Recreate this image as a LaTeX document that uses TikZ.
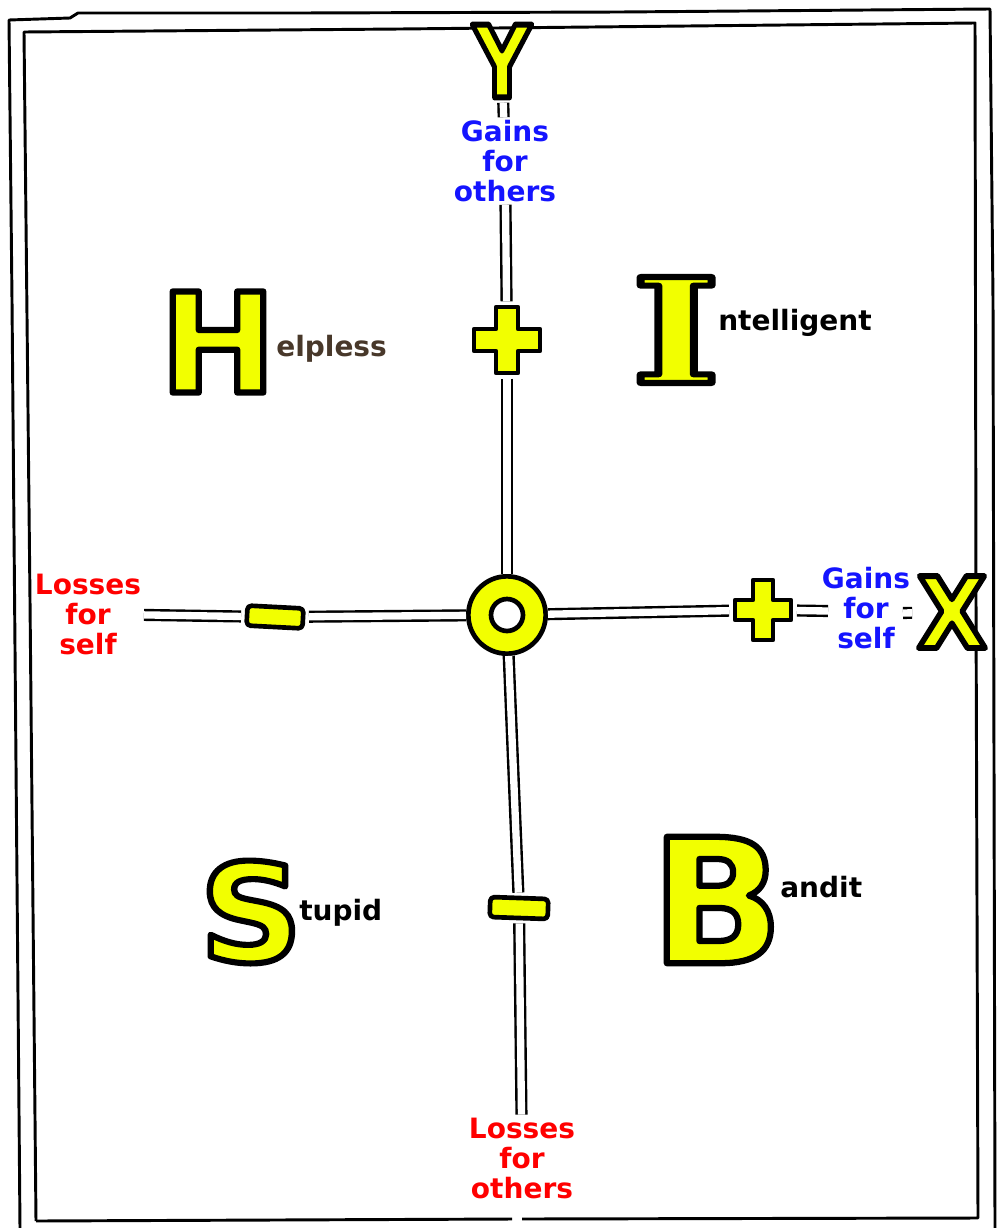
\documentclass[tikz,border=0pt]{standalone}
\usepackage{fontspec}
\setmainfont{DejaVu Sans}
\newfontfamily\bigserif{DejaVu Serif}
\definecolor{ylw}{RGB}{242,255,0}
\definecolor{lblue}{RGB}{20,20,255}
\definecolor{lred}{RGB}{255,0,0}
\definecolor{brn}{RGB}{72,56,42}
\newcommand{\bigletter}[6]{% name, pos, xscale, size, fakebold, letter
  \node[big,xscale=#3] (#1) at (#2) {\fontsize{#4}{#4}\selectfont\addfontfeature{FakeBold=#5}\special{pdf:literal direct 0 0 0 RG 1 j}#6};}
\begin{document}
\begin{tikzpicture}[x=0.75pt,y=-0.75pt,
  frameline/.style={draw=black,line width=2.2pt,line join=round},
  axis/.style={draw=black,line width=1.8pt,double=white,double distance=5.5pt},
  lbl/.style={font=\bfseries\fontsize{21pt}{22.5pt}\selectfont,align=center,inner sep=2pt},
  word/.style={font=\bfseries\fontsize{21pt}{22.5pt}\selectfont,inner sep=0pt,anchor=west},
  big/.style={text=ylw,inner sep=0pt,outer sep=4pt,font=\bfseries},
  sym/.style={fill=ylw,draw=black,line width=3.5pt,line join=round},
  symbox/.style={inner sep=0pt,outer sep=3pt}]
\useasboundingbox (0,0) rectangle (997,1228);
% frame
\draw[frameline] (20,1228) -- (12,300) -- (9,20) -- (70,18) -- (78,13) -- (300,13) -- (620,12) -- (990,9) -- (993,300) -- (995,1228);
\draw[frameline] (36,1221) -- (30,600) -- (24,32) -- (400,29) -- (975,23) -- (976,600) -- (978,1218) -- (522,1219);
\draw[frameline] (512,1219) -- (36,1221);
% letters
\bigletter{Y}{502,61}{0.8}{75pt}{6}{Y}
\bigletter{H}{218,342}{1.0}{104pt}{4.5}{H}
\begingroup\bigserif
\bigletter{I}{676,330}{1.3}{109pt}{4.2}{I}
\endgroup
\bigletter{S}{251,912}{1.05}{102pt}{4.5}{S}
\bigletter{B}{717,900}{1.0}{130pt}{3.6}{B}
\bigletter{X}{952,612}{0.92}{74pt}{6}{X}
% words
\node[word,text=brn] (hw) at (276,349) {elpless};
\node[word] (iw) at (718,323) {ntelligent};
\node[word] (sw) at (299,913) {tupid};
\node[word] (bw) at (780,887) {andit};
% axis labels
\node[lbl,text=lblue] (gO) at (505,161) {Gains\\for\\others};
\node[lbl,text=lred] (lO) at (522,1158) {Losses\\for\\others};
\node[lbl,text=lred] (lS) at (88,614) {Losses\\for\\self};
\node[lbl,text=lblue] (gS) at (866,608) {Gains\\for\\self};
\coordinate (gSl) at (828,611);
\coordinate (gSr) at (903,613);
% symbol boxes
\node[symbox,minimum width=52pt,minimum height=52pt] (pT) at (507,340) {};
\node[symbox,minimum width=45pt,minimum height=48pt] (pR) at (763,610) {};
\node[symbox,minimum width=45pt,minimum height=17pt] (mL) at (275,617) {};
\node[symbox,minimum width=45pt,minimum height=17pt] (mB) at (519,908) {};
\node[circle,fill=ylw,draw=black,line width=3.5pt,minimum size=58pt,inner sep=0pt] (O) at (507,615) {};
\draw[fill=white,draw=black,line width=3.5pt] (O.center) circle (12pt);
% axes
\draw[axis] (Y) -- (gO);
\draw[axis] (gO) -- (pT);
\draw[axis] (pT) -- (O);
\draw[axis] (O) -- (mB);
\draw[axis] (mB) -- (lO);
\draw[axis] (lS) -- (mL);
\draw[axis] (mL) -- (O);
\draw[axis] (O) -- (pR);
\draw[axis] (pR) -- (gSl);
\draw[axis] (gSr) -- (X);
% symbols
\begin{scope}[shift={(pT)}]
\draw[sym] (-33,-11) -- (-11,-11) -- (-11,-33) -- (11,-33) -- (11,-11) -- (33,-11) -- (33,11) -- (11,11) -- (11,33) -- (-11,33) -- (-11,11) -- (-33,11) -- cycle;
\end{scope}
\begin{scope}[shift={(pR)}]
\draw[sym] (-28,-10) -- (-10,-10) -- (-10,-30) -- (10,-30) -- (10,-10) -- (28,-10) -- (28,10) -- (10,10) -- (10,30) -- (-10,30) -- (-10,10) -- (-28,10) -- cycle;
\end{scope}
\begin{scope}[shift={(mL)},rotate=-3]
\draw[sym,rounded corners=3pt] (-28,-10) rectangle (28,10);
\end{scope}
\begin{scope}[shift={(mB)},rotate=-2]
\draw[sym,rounded corners=3pt] (-29,-10) rectangle (29,10);
\end{scope}
\end{tikzpicture}
\end{document}
